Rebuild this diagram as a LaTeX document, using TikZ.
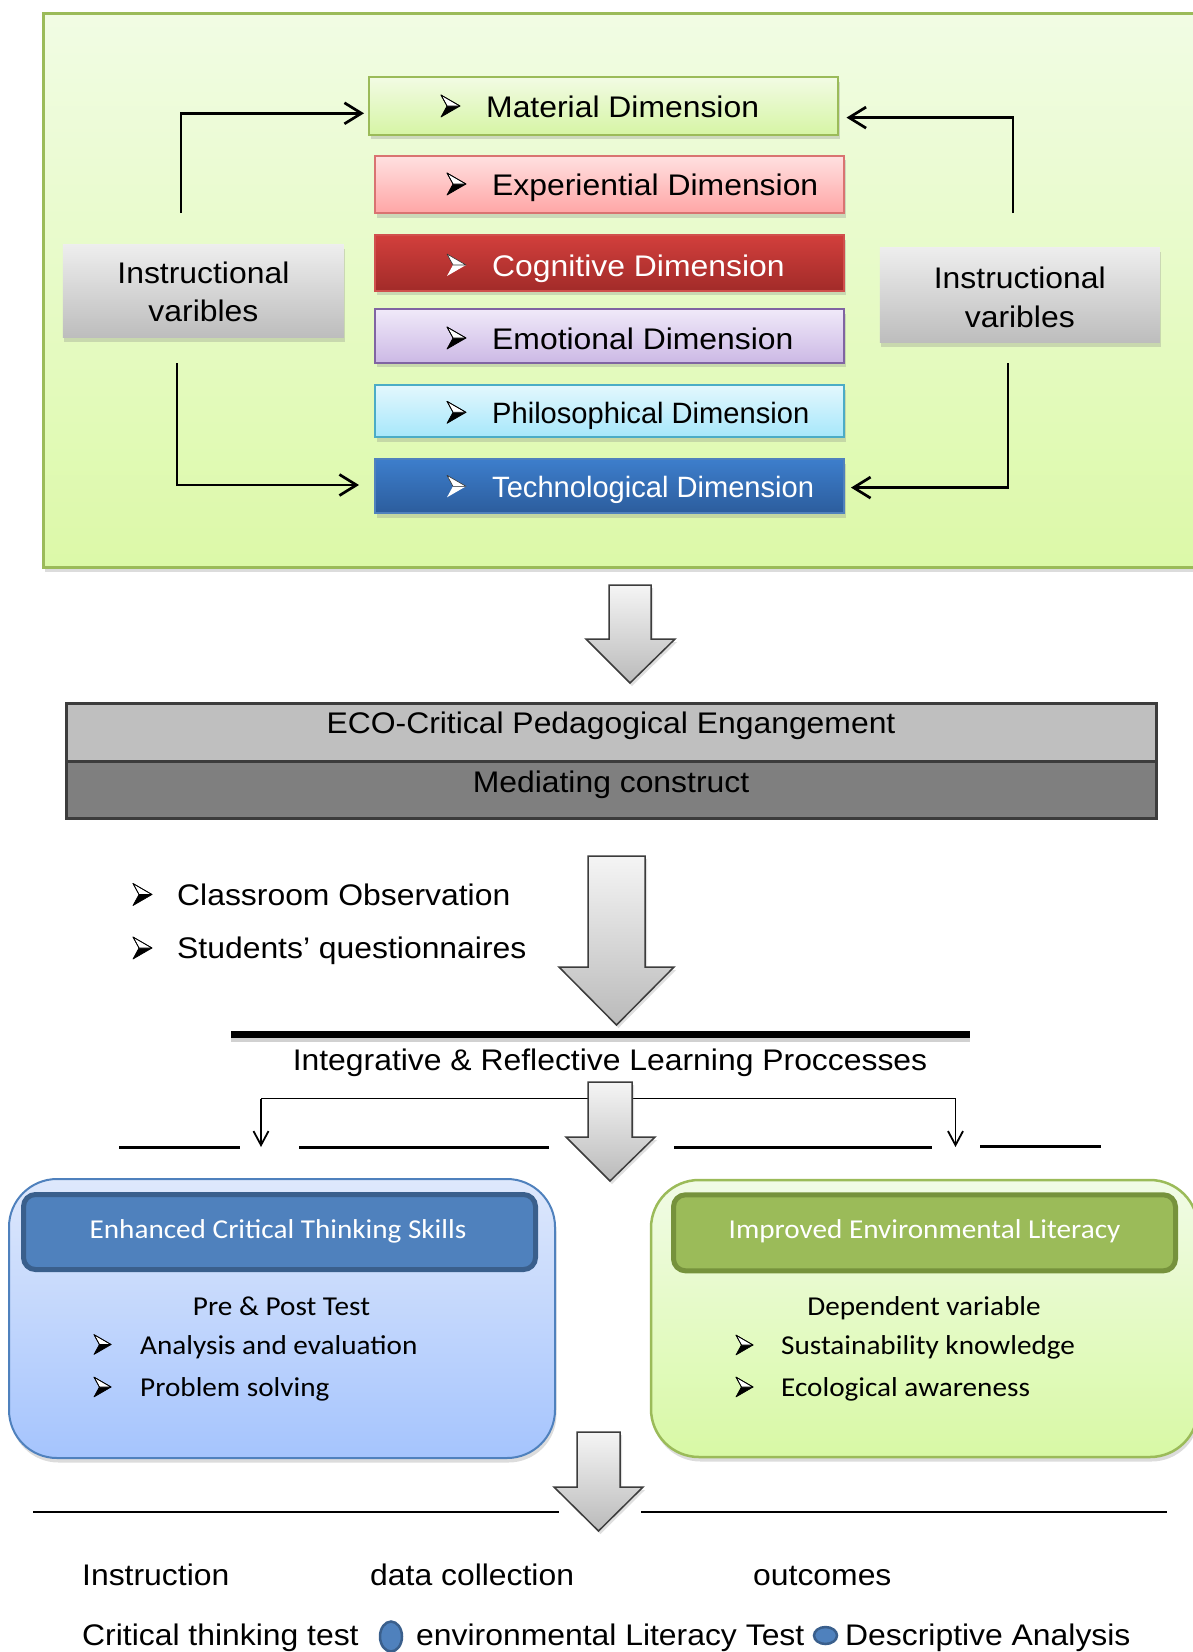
\documentclass[tikz,border=0pt]{standalone}
\usepackage{fontspec}
\setmainfont{Liberation Sans}[FakeStretch=1.07]
\newfontfamily\narrowsans{Liberation Sans}[FakeStretch=0.99]
\newfontfamily\calibri{Carlito}[FakeStretch=1.07]
\usetikzlibrary{arrows.meta,shadows,shapes.geometric}

% panel and box colours
\definecolor{bgT}{HTML}{F1FCE4}
\definecolor{bgB}{HTML}{DCF9A8}
\definecolor{olive}{HTML}{9BBB59}
\definecolor{matT}{HTML}{F2FBE4}
\definecolor{matBt}{HTML}{D6F5A5}
\definecolor{expT}{HTML}{FFE0E0}
\definecolor{expBt}{HTML}{FFA6A6}
\definecolor{redB}{HTML}{D0504D}
\definecolor{cogT}{HTML}{D23F3C}
\definecolor{cogBt}{HTML}{A22B29}
\definecolor{emoT}{HTML}{F0E9F9}
\definecolor{emoBt}{HTML}{CCB9E5}
\definecolor{emoB}{HTML}{8064A2}
\definecolor{phiT}{HTML}{E3F7FD}
\definecolor{phiBt}{HTML}{A6E7FB}
\definecolor{phiB}{HTML}{4BACC6}
\definecolor{tecT}{HTML}{3D7ECC}
\definecolor{tecBt}{HTML}{2C5D9D}
\definecolor{blueB}{HTML}{4F81BD}
\definecolor{blueD}{HTML}{3A5F8C}
\definecolor{greenD}{HTML}{76923C}
\definecolor{ctT}{HTML}{DEE8FC}
\definecolor{ctBt}{HTML}{A5C4FD}
\definecolor{elT}{HTML}{F1FBE6}
\definecolor{elBt}{HTML}{D8F9A5}
\definecolor{grT}{HTML}{EEEEEE}
\definecolor{grBt}{HTML}{BDBDBD}
\definecolor{ecoD}{HTML}{3C3C3C}
\definecolor{ecoT}{HTML}{BFBFBF}
\definecolor{ecoBt}{HTML}{7F7F7F}

\begin{document}
\begin{tikzpicture}[x=1pt,y=-1pt,
  txt/.style={inner sep=0pt, font=\fontsize{29.8}{36}\selectfont},
  ntxt/.style={inner sep=0pt, font=\narrowsans\fontsize{29.4}{36}\selectfont},
  ctxt/.style={inner sep=0pt, font=\calibri\fontsize{27.3}{33}\selectfont},
  softshadow/.style={drop shadow={opacity=0.28, shadow xshift=1.5pt, shadow yshift=-4.5pt}},
  dimbox/.style={rectangle, line width=2pt, minimum width=469pt, inner sep=0pt, softshadow},
  graybox/.style={rectangle, inner sep=0pt, top color=grT, bottom color=grBt, softshadow},
  conn/.style={line width=2.7pt, -{Straight Barb[length=17pt,width=21pt]}},
  smallarr/.style={line width=1.8pt, -{Straight Barb[length=14pt,width=15pt]}},
  bigarrow/.style={draw=ecoD, line width=1.5pt, line join=miter, top color=black!4, bottom color=black!27,
                   drop shadow={opacity=0.25, shadow xshift=2pt, shadow yshift=-3pt}},
  ecoband/.style={rectangle, draw=ecoD, line width=3pt, minimum width=1090pt, inner sep=0pt},
  pics/darkbullet/.style={code={
    \fill[black] (6,0) -- (19,0) -- (0,11) -- cycle;
    \filldraw[fill=white, draw=black, line width=0.7pt, line join=round] (0,-11) -- (19,0) -- (6,0) -- cycle;
    \draw[black, line width=0.7pt, line join=round] (0,-11) -- (19,0) -- (0,11) -- (6,0) -- cycle;
  }},
  pics/lightbullet/.style={code={
    \fill[white] (6,0) -- (19,0) -- (0,11) -- cycle;
    \filldraw[fill=white, draw=black!80, line width=0.6pt, line join=round] (0,-11) -- (19,0) -- (6,0) -- cycle;
  }}
]
\useasboundingbox (0,0) rectangle (1192,1652);

% ---------- instructional panel ----------
\node[rectangle, draw=olive, line width=3pt, top color=bgT, bottom color=bgB, inner sep=0pt,
      minimum width=1157pt, minimum height=554pt, softshadow] (panel) at (621.5,290) {};

\node[dimbox, draw=olive, top color=matT, bottom color=matBt, minimum height=57.5pt] (mat) at (603.5,105.8) {};
\node[dimbox, draw=redB!80, top color=expT, bottom color=expBt, minimum height=57.6pt] (exp) at (609.5,184.5) {};
\node[dimbox, draw=redB, top color=cogT, bottom color=cogBt, minimum height=55.7pt] (cog) at (609.5,262.9) {};
\node[dimbox, draw=emoB, top color=emoT, bottom color=emoBt, minimum height=53.4pt] (emo) at (609.5,336) {};
\node[dimbox, draw=phiB, top color=phiT, bottom color=phiBt, minimum height=52pt] (phi) at (609.5,411.3) {};
\node[dimbox, draw=blueB, top color=tecT, bottom color=tecBt, minimum height=54pt] (tec) at (609.5,486) {};

\pic at (441,106) {darkbullet};
\node[txt, anchor=base west] (matl) at (486,117.3) {Material Dimension};
\pic at (447,184) {darkbullet};
\node[txt, anchor=base west] (expl) at (492,195) {Experiential Dimension};
\pic at (447,265) {lightbullet};
\node[txt, anchor=base west, text=white] (cogl) at (492,276) {Cognitive Dimension};
\pic at (447,338) {darkbullet};
\node[txt, anchor=base west] (emol) at (492,349) {Emotional Dimension};
\pic at (447,412.3) {darkbullet};
\node[ntxt, anchor=base west] (phil) at (492,423.3) {Philosophical Dimension};
\pic at (447,486.3) {lightbullet};
\node[ntxt, anchor=base west, text=white] (tecl) at (492,497.3) {Technological Dimension};

\node[graybox, minimum width=281pt, minimum height=93pt] (ivl) at (203.4,290.5) {};
\node[txt, anchor=base] (ivla) at (203.4,283.3) {Instructional};
\node[txt, anchor=base] (ivlb) at (203.4,321.7) {varibles};
\node[graybox, minimum width=280pt, minimum height=95pt] (ivr) at (1019.8,294.5) {};
\node[txt, anchor=base] (ivra) at (1019.8,288.5) {Instructional};
\node[txt, anchor=base] (ivrb) at (1019.8,327) {varibles};

\coordinate (lt) at (181,213);
\coordinate (rt) at (1013,213);
\coordinate (lb) at (177,363);
\coordinate (rb) at (1008,363);
\draw[conn, shorten >=4pt] (lt) |- ([yshift=-7.5pt]mat.west);
\draw[conn, shorten >=7.5pt] (rt) |- ([yshift=-11.8pt]mat.east);
\draw[conn, shorten >=15pt] (lb) |- ([yshift=1pt]tec.west);
\draw[conn, shorten >=6pt] (rb) |- ([yshift=-1.6pt]tec.east);

% ---------- mediating construct ----------
\path[bigarrow] (609,585) -- (651,585) -- (651,639) -- (675,639) -- (630,683) -- (586,639) -- (609,639) -- cycle;

\node[ecoband, fill=ecoT, minimum height=58pt] (ecotop) at (611,732) {};
\node[ecoband, fill=ecoBt, minimum height=57.6pt] (ecobot) at (611,790) {};
\node[txt, anchor=base] (ecotxt) at (611,733) {ECO-Critical Pedagogical Engangement};
\node[txt, anchor=base] (medtxt) at (611,792) {Mediating construct};

\path[bigarrow] (588,856) -- (645,856) -- (645,967) -- (674,967) -- (616.5,1025) -- (559,967) -- (588,967) -- cycle;

\pic at (133,894.5) {darkbullet};
\node[txt, anchor=base west] (obs) at (177,905) {Classroom Observation};
\pic at (133,948) {darkbullet};
\node[txt, anchor=base west] (que) at (177,958.6) {Students’ questionnaires};

% ---------- learning processes ----------
\coordinate (hl) at (231,1034.5);
\coordinate (hr) at (970,1034.5);
\draw[line width=4pt, black!18] ([yshift=-5pt]hl) -- ([yshift=-5pt]hr);
\draw[line width=7pt] (hl) -- (hr);
\node[txt, anchor=base] (irl) at (610,1070.5) {Integrative \& Reflective Learning Proccesses};

\coordinate (bl) at (261,1098.5);
\coordinate (br) at (955.5,1098.5);
\coordinate (blt) at (261,1147);
\coordinate (brt) at (955.5,1147);
\draw[line width=1.8pt] (bl) -- (br);
\draw[smallarr] (bl) -- (blt);
\draw[smallarr] (br) -- (brt);
\draw[line width=2.3pt] (119,1147.5) -- (240,1147.5);
\draw[line width=2.3pt] (299,1147.5) -- (549,1147.5);
\draw[line width=2.3pt] (674,1147.5) -- (932,1147.5);
\draw[line width=2.3pt] (980,1146.5) -- (1101,1146.5);

\path[bigarrow] (588,1082) -- (632,1082) -- (632,1137) -- (655,1137) -- (610,1181) -- (566,1137) -- (588,1137) -- cycle;

% ---------- outcomes ----------
\node[rectangle, draw=blueB, line width=2pt, rounded corners=48pt, top color=ctT, bottom color=ctBt,
      minimum width=546pt, minimum height=279pt, inner sep=0pt, softshadow] (ctbox) at (282,1318.5) {};
\node[rectangle, draw=blueD, line width=5pt, rounded corners=12pt, fill=blueB,
      minimum width=512pt, minimum height=75pt, inner sep=0pt] (cthead) at (279.5,1232) {};
\node[ctxt, anchor=base, text=white] (cthtxt) at (278,1238) {Enhanced Critical Thinking Skills};
\node[ctxt, anchor=base] (pptxt) at (281.5,1315) {Pre \& Post Test};
\pic[scale=0.9] at (94,1344.5) {darkbullet};
\node[ctxt, anchor=base west] (ana) at (140,1354) {Analysis and evaluation};
\pic[scale=0.9] at (94,1387) {darkbullet};
\node[ctxt, anchor=base west] (prob) at (140,1396.5) {Problem solving};

\node[rectangle, draw=olive, line width=2.5pt, rounded corners=48pt, top color=elT, bottom color=elBt,
      minimum width=547pt, minimum height=277pt, inner sep=0pt, softshadow] (elbox) at (924.5,1318.5) {};
\node[rectangle, draw=greenD, line width=5pt, rounded corners=12pt, fill=olive,
      minimum width=502pt, minimum height=76pt, inner sep=0pt] (elhead) at (924.5,1232.8) {};
\node[ctxt, anchor=base, text=white] (elhtxt) at (924.5,1238) {Improved Environmental Literacy};
\node[ctxt, anchor=base] (dvtxt) at (924,1315) {Dependent variable};
\pic[scale=0.9] at (736,1345) {darkbullet};
\node[ctxt, anchor=base west] (sus) at (781,1354) {Sustainability knowledge};
\pic[scale=0.9] at (736,1387) {darkbullet};
\node[ctxt, anchor=base west] (eco) at (781,1396.5) {Ecological awareness};

\path[bigarrow] (577,1432) -- (620,1432) -- (620,1487) -- (643,1487) -- (598.5,1531) -- (554,1487) -- (577,1487) -- cycle;

\draw[line width=2pt] (33,1511.5) -- (559,1511.5);
\draw[line width=2pt] (641,1511.5) -- (1167,1511.5);

\node[txt, anchor=base west] (ins) at (82,1585) {Instruction};
\node[txt, anchor=base west] (dat) at (370,1585) {data collection};
\node[txt, anchor=base west] (out) at (753,1585) {outcomes};

\node[txt, anchor=base west] (ctt) at (82,1645) {Critical thinking test};
\node[ellipse, draw=blueD, fill=blueB, line width=2.5pt, minimum width=22pt, minimum height=30pt, inner sep=0pt] (ov1) at (391,1636.5) {};
\node[txt, anchor=base west] (elt) at (416,1645) {environmental Literacy Test};
\node[ellipse, draw=blueD, fill=blueB, line width=2.5pt, minimum width=23pt, minimum height=17pt, inner sep=0pt] (ov2) at (825.5,1635.5) {};
\node[txt, anchor=base west] (des) at (845,1645) {Descriptive Analysis};
\end{tikzpicture}
\end{document}
